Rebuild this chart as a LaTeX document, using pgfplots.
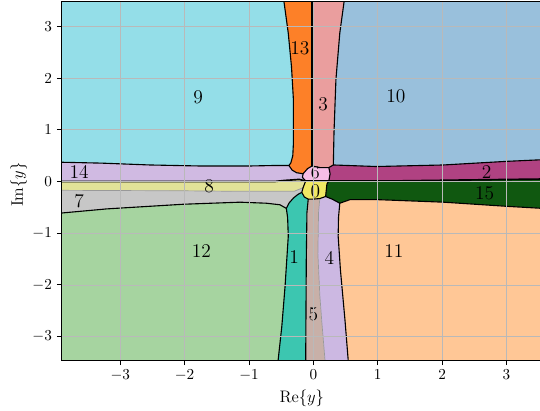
\documentclass[border=0pt]{standalone}
\usepackage{fontspec}
\usepackage{pgfplots}
\pgfplotsset{compat=1.18}
\definecolor{c0}{RGB}{240,232,100}
\definecolor{c1}{RGB}{60,198,176}
\definecolor{c2}{RGB}{176,66,130}
\definecolor{c3}{RGB}{234,158,158}
\definecolor{c4}{RGB}{204,184,226}
\definecolor{c5}{RGB}{200,176,168}
\definecolor{c6}{RGB}{246,190,230}
\definecolor{c7}{RGB}{199,199,199}
\definecolor{c8}{RGB}{226,226,152}
\definecolor{c9}{RGB}{148,222,232}
\definecolor{c10}{RGB}{153,192,220}
\definecolor{c11}{RGB}{255,199,150}
\definecolor{c12}{RGB}{166,212,160}
\definecolor{c13}{RGB}{253,128,40}
\definecolor{c14}{RGB}{208,186,226}
\definecolor{c15}{RGB}{16,88,16}
\pgfplotsset{
  reg/.style={fill=#1, draw=none, mark=none, forget plot},
  bd/.style={black, line width=0.8pt, mark=none, forget plot, line join=round},
  bdg/.style={gray!80, line width=0.5pt, mark=none, forget plot},
}
\begin{document}
\begin{tikzpicture}
\begin{axis}[
  scale only axis,
  width=347.3pt, height=258.3pt,
  xmin=-3.91, xmax=3.58, ymin=-3.46, ymax=3.48,
  axis on top,
  grid=major,
  major grid style={color=gray!55, line width=0.5pt},
  xtick={-3,...,3}, ytick={-3,...,3},
  tick align=outside, tick pos=left,
  major tick length=3.5pt,
  tick style={black, line width=0.6pt},
  axis line style={black, line width=0.6pt},
  tick label style={font=\fontsize{11}{13}\selectfont},
  xlabel={$\mathrm{Re}\{y\}$}, ylabel={$\mathrm{Im}\{y\}$},
  label style={font=\fontsize{12}{14}\selectfont},
  xlabel style={at={([yshift=-27.5pt]axis description cs:0.498,0)}, anchor=center},
  ylabel style={at={([xshift=-31pt]axis description cs:0,0.49)}, anchor=center},
]
% regions
\addplot[reg=c9] coordinates {(-4,3.6) (-0.47,3.6) (-0.39,2.87) (-0.34,2.22) (-0.31,1.58) (-0.31,0.74) (-0.32,0.5) (-0.35,0.36) (-0.38,0.31) (-0.45,0.31) (-0.6,0.31) (-1.0,0.30) (-1.75,0.30) (-2.54,0.32) (-3.3,0.356) (-4.0,0.375)};
\addplot[reg=c13] coordinates {(-0.47,3.6) (-0.02,3.6) (-0.02,0.30) (-0.09,0.25) (-0.16,0.15) (-0.26,0.17) (-0.33,0.22) (-0.38,0.31) (-0.35,0.36) (-0.32,0.5) (-0.31,0.74) (-0.31,1.58) (-0.34,2.22) (-0.39,2.87)};
\addplot[reg=c3] coordinates {(-0.02,3.6) (0.49,3.6) (0.41,2.87) (0.35,1.97) (0.32,0.94) (0.31,0.32) (0.24,0.27) (0.10,0.27) (-0.02,0.30)};
\addplot[reg=c10] coordinates {(0.49,3.6) (3.7,3.6) (3.7,0.43) (3.0,0.39) (2.02,0.32) (0.98,0.29) (0.31,0.32) (0.32,0.94) (0.35,1.97) (0.41,2.87)};
\addplot[reg=c2] coordinates {(0.24,0.27) (0.31,0.32) (0.98,0.29) (2.02,0.32) (3.0,0.39) (3.7,0.43) (3.7,0.05) (2.4,0.03) (1.2,0.01) (0.24,0.01) (0.26,0.15)};
\addplot[reg=c6] coordinates {(-0.16,0.15) (-0.09,0.25) (-0.02,0.30) (0.10,0.27) (0.24,0.27) (0.26,0.15) (0.24,0.01) (-0.12,0.01) (-0.17,0.08)};
\addplot[reg=c14] coordinates {(-4.0,0.375) (-3.3,0.356) (-2.54,0.32) (-1.75,0.30) (-1.0,0.30) (-0.6,0.31) (-0.45,0.31) (-0.38,0.31) (-0.33,0.22) (-0.26,0.17) (-0.16,0.15) (-0.17,0.08) (-0.12,0.01) (-0.22,0.04) (-0.45,0.02) (-0.6,0.0) (-4.0,0.0)};
\addplot[reg=c8] coordinates {(-4.0,0.0) (-0.6,0.0) (-0.45,0.02) (-0.22,0.04) (-0.12,0.01) (-0.16,-0.12) (-0.3,-0.19) (-1.14,-0.19) (-2,-0.18) (-4.0,-0.17)};
\addplot[reg=c7] coordinates {(-4.0,-0.17) (-2,-0.18) (-1.14,-0.19) (-0.3,-0.19) (-0.16,-0.12) (-0.18,-0.21) (-0.24,-0.25) (-0.31,-0.32) (-0.38,-0.42) (-0.42,-0.52) (-0.52,-0.45) (-0.73,-0.42) (-1.14,-0.40) (-2.02,-0.44) (-3.21,-0.53) (-4.0,-0.62)};
\addplot[reg=c12] coordinates {(-4.0,-0.62) (-3.21,-0.53) (-2.02,-0.44) (-1.14,-0.40) (-0.73,-0.42) (-0.52,-0.45) (-0.42,-0.52) (-0.40,-0.7) (-0.39,-1.06) (-0.44,-2.03) (-0.49,-2.80) (-0.56,-3.6) (-4.0,-3.6)};
\addplot[reg=c1] coordinates {(-0.42,-0.52) (-0.38,-0.42) (-0.31,-0.32) (-0.24,-0.25) (-0.18,-0.21) (-0.14,-0.30) (-0.08,-0.34) (-0.10,-0.6) (-0.11,-1.5) (-0.12,-3.6) (-0.56,-3.6) (-0.49,-2.80) (-0.44,-2.03) (-0.39,-1.06) (-0.40,-0.7)};
\addplot[reg=c0] coordinates {(-0.12,0.01) (0.24,0.01) (0.21,-0.05) (0.19,-0.29) (0.10,-0.33) (0.0,-0.34) (-0.08,-0.34) (-0.14,-0.30) (-0.18,-0.21) (-0.16,-0.12)};
\addplot[reg=c5] coordinates {(-0.08,-0.34) (0.0,-0.34) (0.10,-0.33) (0.08,-0.6) (0.07,-1.4) (0.10,-2.2) (0.13,-2.7) (0.19,-3.6) (-0.12,-3.6) (-0.11,-1.5) (-0.10,-0.6)};
\addplot[reg=c4] coordinates {(0.10,-0.33) (0.19,-0.29) (0.29,-0.34) (0.41,-0.42) (0.39,-0.7) (0.385,-1.06) (0.42,-1.71) (0.49,-2.67) (0.55,-3.6) (0.19,-3.6) (0.13,-2.7) (0.10,-2.2) (0.07,-1.4) (0.08,-0.6)};
\addplot[reg=c15] coordinates {(0.24,0.01) (1.2,0.01) (2.4,0.03) (3.7,0.05) (3.7,-0.53) (3.0,-0.48) (2.02,-0.40) (0.98,-0.35) (0.57,-0.35) (0.41,-0.42) (0.29,-0.34) (0.19,-0.29) (0.21,-0.05)};
\addplot[reg=c11] coordinates {(0.41,-0.42) (0.57,-0.35) (0.98,-0.35) (2.02,-0.40) (3.0,-0.48) (3.7,-0.53) (3.7,-3.6) (0.55,-3.6) (0.49,-2.67) (0.42,-1.71) (0.385,-1.06) (0.39,-0.7)};
% boundaries
\addplot[bdg] coordinates {(-4.0,-0.17) (-2,-0.18) (-1.14,-0.19) (-0.3,-0.19) (-0.16,-0.12)};
\addplot[bdg] coordinates {(0.10,-0.33) (0.08,-0.6) (0.07,-1.4) (0.10,-2.2) (0.13,-2.7) (0.19,-3.6)};
\addplot[bd] coordinates {(-4.0,0.375) (-3.3,0.356) (-2.54,0.32) (-1.75,0.30) (-1.0,0.30) (-0.6,0.31) (-0.45,0.31) (-0.38,0.31) (-0.35,0.36) (-0.32,0.5) (-0.31,0.74) (-0.31,1.58) (-0.34,2.22) (-0.39,2.87) (-0.47,3.6)};
\addplot[bd] coordinates {(-0.38,0.31) (-0.33,0.22) (-0.26,0.17) (-0.16,0.15) (-0.09,0.25) (-0.02,0.30) (0.10,0.27) (0.24,0.27) (0.31,0.32) (0.32,0.94) (0.35,1.97) (0.41,2.87) (0.49,3.6)};
\addplot[bd, line width=1.2pt] coordinates {(-0.02,0.30) (-0.02,3.6)};
\addplot[bd] coordinates {(0.31,0.32) (0.98,0.29) (2.02,0.32) (3.0,0.39) (3.7,0.43)};
\addplot[bd] coordinates {(0.24,0.27) (0.26,0.15) (0.24,0.01)};
\addplot[bd, line width=1.2pt] coordinates {(-4,0) (-0.6,0.0) (-0.45,0.02) (-0.22,0.04) (-0.12,0.01) (0.24,0.01) (1.2,0.01) (2.4,0.03) (3.7,0.05)};
\addplot[bd] coordinates {(-0.16,0.15) (-0.17,0.08) (-0.12,0.01)};
\addplot[bd] coordinates {(-0.12,0.01) (-0.16,-0.12) (-0.18,-0.21) (-0.14,-0.30) (-0.08,-0.34) (0.0,-0.34) (0.10,-0.33) (0.19,-0.29) (0.21,-0.05) (0.24,0.01)};
\addplot[bd] coordinates {(-0.18,-0.21) (-0.24,-0.25) (-0.31,-0.32) (-0.38,-0.42) (-0.42,-0.52) (-0.40,-0.7) (-0.39,-1.06) (-0.44,-2.03) (-0.49,-2.80) (-0.56,-3.6)};
\addplot[bd] coordinates {(-0.42,-0.52) (-0.52,-0.45) (-0.73,-0.42) (-1.14,-0.40) (-2.02,-0.44) (-3.21,-0.53) (-4.0,-0.62)};
\addplot[bd] coordinates {(-0.08,-0.34) (-0.10,-0.6) (-0.11,-1.5) (-0.12,-3.6)};
\addplot[bd] coordinates {(0.19,-0.29) (0.29,-0.34) (0.41,-0.42) (0.39,-0.7) (0.385,-1.06) (0.42,-1.71) (0.49,-2.67) (0.55,-3.6)};
\addplot[bd] coordinates {(0.41,-0.42) (0.57,-0.35) (0.98,-0.35) (2.02,-0.40) (3.0,-0.48) (3.7,-0.53)};
% labels
\begin{scope}[every node/.style={font=\fontsize{14}{16}\selectfont, inner sep=0pt}]
\node at (axis cs:0.03,-0.19) {0};
\node at (axis cs:-0.30,-1.47) {1};
\node at (axis cs:2.69,0.19) {2};
\node at (axis cs:0.15,1.50) {3};
\node at (axis cs:0.25,-1.47) {4};
\node at (axis cs:0.0,-2.56) {5};
\node[font=\fontsize{13}{15}\selectfont] at (axis cs:0.03,0.17) {6};
\node at (axis cs:-3.64,-0.38) {7};
\node at (axis cs:-1.62,-0.09) {8};
\node at (axis cs:-1.79,1.64) {9};
\node at (axis cs:1.28,1.65) {10};
\node at (axis cs:1.25,-1.35) {11};
\node at (axis cs:-1.74,-1.34) {12};
\node at (axis cs:-0.21,2.58) {13};
\node at (axis cs:-3.64,0.18) {14};
\node at (axis cs:2.66,-0.23) {15};
\end{scope}
\coordinate (SW) at (axis description cs:0,0);
\coordinate (NE) at (axis cs:3.52,3.48);
\end{axis}
\pgfresetboundingbox
\path[use as bounding box] ([xshift=-44.4pt,yshift=-36.2pt]SW) rectangle ([yshift=1.2pt]NE);
\end{tikzpicture}
\end{document}
